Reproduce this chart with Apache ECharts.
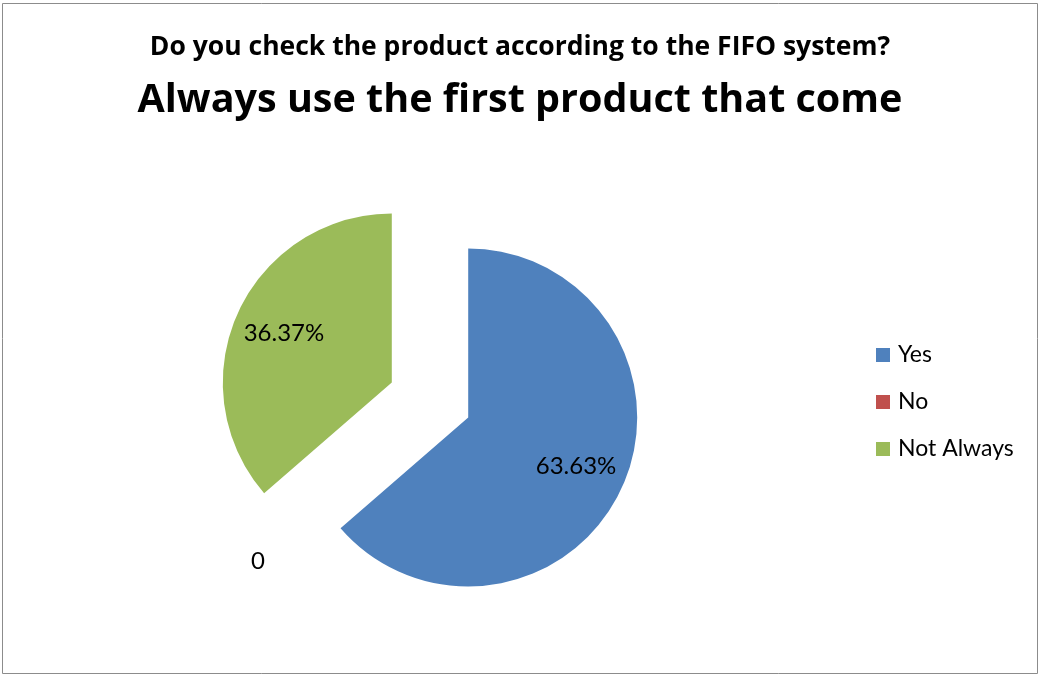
<!DOCTYPE html>
<html>
<head>
<meta charset="utf-8">
<title>FIFO pie</title>
<script src="https://cdn.jsdelivr.net/npm/echarts@6/dist/echarts.min.js"></script>
<style>
  html, body { margin: 0; padding: 0; background: #fff; }
  #chart { width: 1040px; height: 675px; }
</style>
</head>
<body>
<div id="chart"></div>
<script>
// data
var categories = ['Yes', 'No', 'Not Always'];
var values = [63.63, 0, 36.37];
var colors = ['#4F81BD', '#C0504D', '#9BBB59'];
var titleLine1 = 'Do you check the product according to the FIFO system?';
var titleLine2 = 'Always use the first product that come';

var FONT = 'Lato, "Open Sans", sans-serif';
var TITLE_FONT = '"Open Sans", Lato, sans-serif';
var R = 169;

// mid angle of every slice (clockwise from 12 o'clock), used to push labels outward
var total = values.reduce(function (a, b) { return a + b; }, 0);
var midAngles = [];
var acc = 0;
values.forEach(function (v) {
  midAngles.push((acc + v / 2) / total * Math.PI * 2);
  acc += v;
});
// how far past the default (half radius) spot the label sits
var labelPush = values.map(function (v) { return v === 0 ? 106 : 31; });

var chart = echarts.init(document.getElementById('chart'));

chart.setOption({
  animation: false,
  backgroundColor: '#fff',
  graphic: [{
    type: 'rect',
    shape: { x: 2.5, y: 3.5, width: 1035, height: 670 },
    style: { fill: 'none', stroke: '#8c8c8c', lineWidth: 1 },
    silent: true
  }],
  title: [
    {
      text: titleLine1,
      left: 'center',
      top: 27,
      textStyle: { fontFamily: TITLE_FONT, fontSize: 26.5, fontWeight: 'bold', color: '#000', lineHeight: 30 }
    },
    {
      text: titleLine2,
      left: 'center',
      top: 73,
      textStyle: { fontFamily: TITLE_FONT, fontSize: 39.5, fontWeight: 'bold', color: '#000', lineHeight: 46 }
    }
  ],
  legend: {
    orient: 'vertical',
    left: 871,
    top: 338,
    icon: 'rect',
    itemWidth: 14,
    itemHeight: 14,
    itemGap: 23,
    selectedMode: false,
    data: categories,
    textStyle: { fontFamily: FONT, fontSize: 23, color: '#000', lineHeight: 24, padding: [0, 0, 0, 3] }
  },
  series: [{
    type: 'pie',
    center: [430, 400],
    radius: R,
    startAngle: 90,
    clockwise: true,
    selectedMode: 'multiple',
    selectedOffset: 42,
    emphasis: { disabled: true },
    label: {
      show: true,
      position: 'inside',
      fontFamily: FONT,
      fontSize: 24,
      color: '#000',
      formatter: function (p) {
        return p.value === 0 ? '0' : p.value.toFixed(2) + '%';
      }
    },
    labelLine: { show: false },
    labelLayout: function (p) {
      var a = midAngles[p.dataIndex];
      var k = labelPush[p.dataIndex];
      var zero = values[p.dataIndex] === 0;
      return { dx: Math.sin(a) * k + (zero ? 6 : 0), dy: -Math.cos(a) * k + (zero ? 7 : 0) };
    },
    data: categories.map(function (name, i) {
      return { name: name, value: values[i], selected: true, itemStyle: { color: colors[i] } };
    })
  }]
});
</script>
</body>
</html>
